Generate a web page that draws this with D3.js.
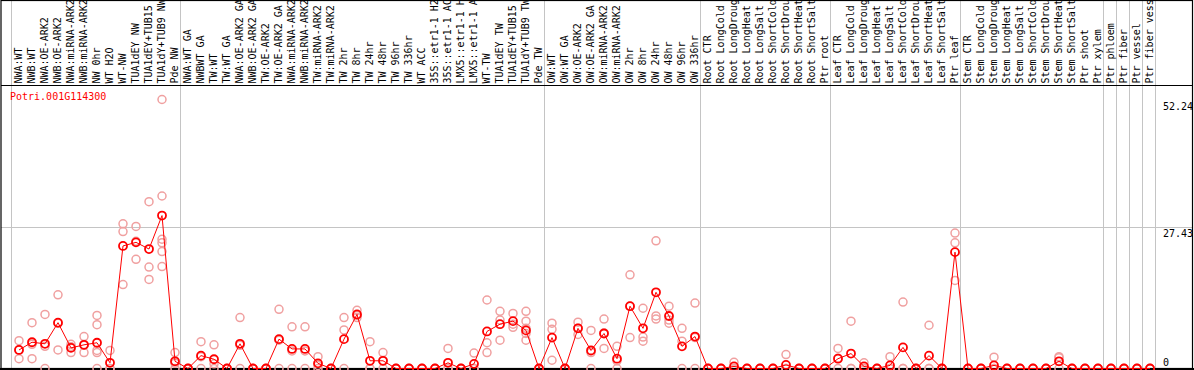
<!DOCTYPE html>
<html>
<head>
<meta charset="utf-8">
<script src="https://cdn.jsdelivr.net/npm/d3@7"></script>
<style>
  body { margin: 0; background: #fff; }
  text { font-family: "DejaVu Sans Mono", monospace; font-size: 10px; }
</style>
</head>
<body>
<svg id="body" width="1194" height="370"></svg>
<script>
const gene = "Potri.001G114300"

const samples = [
  "NWA:WT", "NWB:WT", "NWA:OE-ARK2", "NWB:OE-ARK2", "NWA:miRNA-ARK2", "NWB:miRNA-ARK2",
  "NW 0hr", "WT H2O", "WT-NW", "TUA1dEY NW", "TUA1dEY+TUB15", "TUA1dY+TUB9 NW", "Pde NW",
  "NWA:WT GA", "NWBWT GA", "TW:WT", "TW:WT GA", "NWA:OE-ARK2 GA", "NWB:OE-ARK2 GA",
  "TW:OE-ARK2", "TW:OE-ARK2 GA", "NWA:miRNA-ARK2", "NWB:miRNA-ARK2", "TW:miRNA-ARK2",
  "TW:miRNA-ARK2", "TW 2hr", "TW 8hr", "TW 24hr", "TW 48hr", "TW 96hr", "TW 336hr",
  "WT ACC", "35S::etr1-1 H2", "35S::etr1-1 AC", "LMX5::etr1-1 H", "LMX5::etr1-1 A",
  "WT-TW", "TUA1dEY TW", "TUA1dEY+TUB15", "TUA1dY+TUB9 TW", "Pde TW",
  "OW:WT", "OW:WT GA", "OW:OE-ARK2", "OW:OE-ARK2 GA", "OW:miRNA-ARK2", "OW:miRNA-ARK2",
  "OW 2hr", "OW 8hr", "OW 24hr", "OW 48hr", "OW 96hr", "OW 336hr",
  "Root CTR", "Root LongCold", "Root LongDroug", "Root LongHeat", "Root LongSalt",
  "Root ShortCold", "Root ShortDrou", "Root ShortHeat", "Root ShortSalt", "Ptr root",
  "Leaf CTR", "Leaf LongCold", "Leaf LongDroug", "Leaf LongHeat", "Leaf LongSalt",
  "Leaf ShortCold", "Leaf ShortDrou", "Leaf ShortHeat", "Leaf ShortSalt", "Ptr leaf",
  "Stem CTR", "Stem LongCold", "Stem LongDroug", "Stem LongHeat", "Stem LongSalt",
  "Stem ShortCold", "Stem ShortDrou", "Stem ShortHeat", "Stem ShortSalt", "Ptr shoot",
  "Ptr xylem", "Ptr phloem", "Ptr fiber", "Ptr vessel", "Ptr fiber vess"
]

// index of the first sample of each group (last = end)
const groupStarts = [0, 13, 41, 53, 63, 73, 84, 85, 86, 87, 88]

const means = [
  3.6, 5.1, 4.8, 8.9, 4.0, 4.6, 5.0, 1.1, 23.8, 24.5, 23.2, 29.7, 1.4,
  0, 2.5, 1.8, 0, 4.8, 0, 0, 5.7, 3.8, 3.8, 1.0, 0, 5.7, 10.5, 1.5, 1.5, 0, 0,
  0, 0, 1.1, 0, 0.9, 7.2, 8.6, 9.2, 7.4, 0,
  6.0, 0, 7.8, 3.5, 6.8, 1.9, 12.1, 7.8, 14.8, 10.2, 4.3, 6.2,
  0, 0, 0.4, 0, 0, 0, 0.7, 0, 0, 0,
  1.9, 2.9, 0.4, 0, 0.6, 4.1, 0, 2.5, 0, 22.6,
  0, 0, 0.6, 0, 0, 0, 0, 1.4, 0, 0,
  0, 0, 0, 0, 0
]

const reps = [
  [5.4, 3.6, 1.9], [8.9, 4.7, 1.9], [10.5, 4.3, 0], [14.3, 8.8, 3.6], [4.7, 4.2, 3.1],
  [6.2, 4.5, 3.1], [10.3, 8.5, 3.5, 3.1, 0], [3.5, 0, 0], [28.1, 26.6, 16.3],
  [27.6, 24.7, 21.2], [32.4, 19.7, 17.3], [52.24, 33.5, 25.1, 24.4, 22.7, 19.8], [3.1, 1.0, 0],
  [0, 0, 0], [5.2, 2.3, 0], [4.6, 0.9, 0], [0, 0, 0], [9.9, 4.5, 0], [0, 0, 0], [0, 0, 0],
  [11.5, 5.5, 0], [8.1, 3.4, 0], [8.1, 3.4, 0], [2.3, 0.6, 0], [0, 0, 0], [9.9, 7.5, 0],
  [11.3, 10.3, 9.9], [5.2, 0, 0], [3.1, 1.5, 0], [0, 0, 0], [0, 0, 0],
  [0, 0, 0], [0, 0, 0], [3.9, 0, 0], [0, 0, 0], [3.0, 0, 0], [13.3, 5.0, 3.1],
  [11.1, 9.4, 5.5], [10.7, 8.6, 8.0], [11.1, 9.2, 7.8, 6.8, 5.5], [0, 0, 0],
  [8.8, 7.6, 1.6], [0, 0, 0], [9.0, 7.8, 6.6], [7.4, 3.1, 0], [9.6, 6.9, 3.9], [4.3, 1.5, 0],
  [18.2, 12.1, 6.0], [11.7, 6.1, 5.3], [24.8, 10.2, 9.6], [12.1, 9.4, 8.8], [7.8, 5.3, 0],
  [12.7, 6.0, 0],
  [0, 0, 0], [0, 0, 0], [1.2, 0, 0], [0, 0, 0], [0, 0, 0], [0, 0, 0], [2.7, 0, 0],
  [0, 0, 0], [0, 0, 0], [0, 0, 0],
  [3.9, 2.0, 0], [9.2, 0, 0], [1.1, 0, 0], [0, 0, 0], [2.3, 0, 0], [12.9, 0, 0], [0, 0, 0],
  [8.4, 0, 0], [0, 0, 0], [26.3, 24.4, 17.1],
  [0, 0, 0], [0, 0, 0], [2.2, 0, 0], [0, 0, 0], [0, 0, 0], [0, 0, 0], [0, 0, 0],
  [2.3, 2.1, 0], [0, 0, 0], [0, 0, 0],
  [0, 0, 0], [0, 0, 0], [0, 0, 0], [0, 0, 0], [0, 0, 0]
]

const yTicks = [0, 27.43, 52.24]

let svg = d3.select("#body")

let W = 1194
let labelBottom = 85.5
let plotBottom = 368.5

let x = d3.scaleBand()
    .domain(d3.range(samples.length))
    .range([10.5, 10.5 + samples.length * 13])
    .padding(0)

let y = d3.scaleLinear()
    .domain([0, 52.24])
    .range([plotBottom, 99.5])

let px = i => x(i) + 8.5

// group separators, run through label area too
svg.selectAll("line.group")
    .data(groupStarts)
    .enter().append("line")
    .attr("class", "group")
    .attr("x1", d => Math.round(x(d) || x.range()[1]) + 0.5)
    .attr("x2", d => Math.round(x(d) || x.range()[1]) + 0.5)
    .attr("y1", 0)
    .attr("y2", plotBottom)
    .attr("stroke", "#c4c4c4")
    .attr("stroke-width", 1)

// gridline at the middle tick
svg.append("line")
    .attr("x1", 1).attr("x2", W - 2)
    .attr("y1", Math.round(y(yTicks[1])) + 0.5)
    .attr("y2", Math.round(y(yTicks[1])) + 0.5)
    .attr("stroke", "#c4c4c4")

// frame
svg.append("rect")
    .attr("x", 1).attr("y", 0.5)
    .attr("width", W - 2.5).attr("height", plotBottom - 0.5)
    .attr("fill", "none")
    .attr("stroke", "#000")
    .attr("stroke-width", 1.2)

svg.append("line")
    .attr("x1", 1).attr("x2", W - 1.5)
    .attr("y1", labelBottom).attr("y2", labelBottom)
    .attr("stroke", "#000")
    .attr("stroke-width", 1.2)

svg.append("line")
    .attr("x1", 0).attr("x2", W)
    .attr("y1", plotBottom + 0.5).attr("y2", plotBottom + 0.5)
    .attr("stroke", "#000")
    .attr("stroke-width", 2)

// sample labels
svg.selectAll("text.sample")
    .data(samples)
    .enter().append("text")
    .attr("class", "sample")
    .attr("transform", (d, i) => "translate(" + (x(i) + 7.5) + "," + (labelBottom - 2) + ") rotate(-90)")
    .attr("dy", "0.35em")
    .attr("fill", "#000")
    .text(d => d)

// y values on the right
svg.selectAll("text.tick")
    .data(yTicks)
    .enter().append("text")
    .attr("class", "tick")
    .attr("x", 1163)
    .attr("y", d => d == 0 ? y(d) - 3 : y(d) + 3)
    .attr("dominant-baseline", d => d == 0 ? "auto" : "hanging")
    .attr("fill", "#000")
    .text(d => d)

svg.append("text")
    .attr("x", 10)
    .attr("y", 100)
    .attr("fill", "#ff0000")
    .text(gene)

// replicate points
let repPoints = []
reps.forEach((r, i) => r.forEach(v => repPoints.push([i, v])))

svg.selectAll("circle.rep")
    .data(repPoints)
    .enter().append("circle")
    .attr("class", "rep")
    .attr("cx", d => px(d[0]))
    .attr("cy", d => y(d[1]))
    .attr("r", 4)
    .attr("fill", "none")
    .attr("stroke", "#f0a0a0")
    .attr("stroke-width", 1.5)

// mean line
let line = d3.line()
    .x((d, i) => px(i))
    .y(d => y(d))

svg.append("path")
    .datum(means)
    .attr("d", line)
    .attr("fill", "none")
    .attr("stroke", "#ff0000")
    .attr("stroke-width", 1)

svg.selectAll("circle.mean")
    .data(means)
    .enter().append("circle")
    .attr("class", "mean")
    .attr("cx", (d, i) => px(i))
    .attr("cy", d => y(d))
    .attr("r", 4)
    .attr("fill", "none")
    .attr("stroke", "#ff0000")
    .attr("stroke-width", 1.8)
</script>
</body>
</html>
